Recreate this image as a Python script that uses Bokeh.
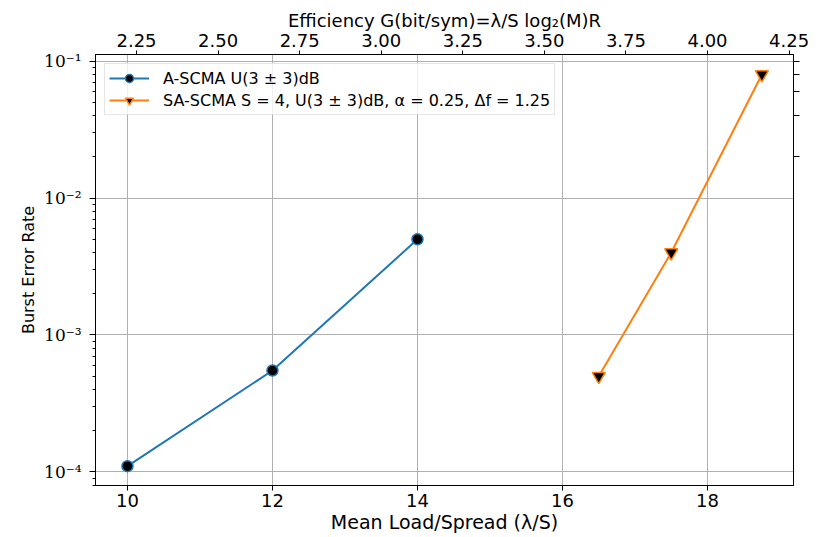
from bokeh.plotting import figure
from bokeh.models import (LinearAxis, LogAxis, Range1d, FixedTicker,
                          CustomJSTickFormatter, NumeralTickFormatter)
from bokeh.embed import file_html
from bokeh.resources import INLINE

# ---- data ----
load_a = [10, 12, 14]
ber_a = [1.1e-4, 5.5e-4, 5.0e-3]
load_sa = [16.5, 17.5, 18.75]
ber_sa = [5.0e-4, 4.0e-3, 8.0e-2]
label_a = "A-SCMA U(3 ± 3)dB"
label_sa = "SA-SCMA S = 4, U(3 ± 3)dB, α = 0.25, Δf = 1.25"

x_ticks = [10, 12, 14, 16, 18]
top_ticks = [2.25, 2.50, 2.75, 3.00, 3.25, 3.50, 3.75, 4.00, 4.25]
y_ticks = [1e-4, 1e-3, 1e-2, 1e-1]
y_tick_labels = ["10⁻⁴", "10⁻³", "10⁻²", "10⁻¹"]
right_ticks = [0.02, 0.04, 0.06, 0.08, 0.10]
eff_per_load = 2.0 / 9.0   # efficiency G per unit of load

x_lo, x_hi = 9.559, 19.186
y_lo, y_hi = 7.95e-5, 0.1119

SANS = "DejaVu Sans"
SERIF = "DejaVu Serif"
BLUE = "#1f77b4"
ORANGE = "#ff7f0e"

p = figure(width=821, height=537, y_axis_type="log",
           x_range=Range1d(x_lo, x_hi), y_range=Range1d(y_lo, y_hi),
           output_backend="svg", toolbar_location=None,
           min_border_left=95, min_border_right=28,
           min_border_top=54, min_border_bottom=52)
p.extra_x_ranges = {"eff": Range1d(x_lo * eff_per_load, x_hi * eff_per_load)}

p.outline_line_color = "black"
p.outline_line_width = 1
p.background_fill_color = "white"
p.border_fill_color = "white"

# bottom axis
bx = p.below[0]
bx.ticker = FixedTicker(ticks=x_ticks)
bx.axis_label = "Mean Load/Spread (λ/S)"

# left axis
ly = p.left[0]
minor = [k * d for d in [1e-5, 1e-4, 1e-3, 1e-2, 1e-1] for k in range(2, 10)]
ly.ticker = FixedTicker(ticks=y_ticks, minor_ticks=minor)
ly.formatter = CustomJSTickFormatter(args=dict(vals=y_ticks, labs=y_tick_labels), code="""
    for (let i = 0; i < vals.length; i++) {
        if (Math.abs(Math.log10(tick) - Math.log10(vals[i])) < 1e-6) return labs[i];
    }
    return "";
""")
ly.axis_label = "Burst Error Rate"

# top axis
tx = LinearAxis(x_range_name="eff", ticker=FixedTicker(ticks=top_ticks),
                formatter=NumeralTickFormatter(format="0.00"),
                axis_label="Efficiency G(bit/sym)=λ/S log₂(M)R")
p.add_layout(tx, "above")

# right axis (unlabelled ticks)
ry = LogAxis(ticker=FixedTicker(ticks=right_ticks, minor_ticks=[]),
             formatter=CustomJSTickFormatter(code="return '';"))
p.add_layout(ry, "right")

for ax in [bx, ly, tx, ry]:
    ax.axis_line_color = "black"
    ax.axis_line_width = 1
    ax.major_tick_line_color = "black"
    ax.minor_tick_line_color = "black"
    ax.major_tick_in = 0
    ax.major_tick_out = 5
    ax.minor_tick_in = 0
    ax.minor_tick_out = 3
    ax.major_label_text_color = "black"
    ax.axis_label_text_color = "black"
    ax.axis_label_text_font_style = "normal"
    ax.axis_label_text_font = SANS

# bottom
bx.major_label_text_font = SANS
bx.major_label_text_font_size = "18px"
bx.major_label_standoff = 3
bx.axis_label_text_font_size = "19px"
bx.axis_label_standoff = 1
# top
tx.major_tick_out = 4
tx.major_label_text_font = SANS
tx.major_label_text_font_size = "18px"
tx.major_label_standoff = 4
tx.axis_label_text_font_size = "18px"
tx.axis_label_standoff = 0
# left
ly.major_tick_out = 6
ly.major_label_text_font = SERIF
ly.major_label_text_font_size = "17px"
ly.major_label_standoff = 8
ly.axis_label_text_font_size = "16px"
ly.axis_label_standoff = 3
# right
ry.major_tick_out = 6

p.xgrid.ticker = FixedTicker(ticks=x_ticks)
p.ygrid.ticker = FixedTicker(ticks=y_ticks)
for g in [p.xgrid[0], p.ygrid[0]]:
    g.grid_line_color = "#b0b0b0"
    g.grid_line_width = 1

# series
p.line(load_a, ber_a, line_color=BLUE, line_width=2, legend_label=label_a)
p.scatter(load_a, ber_a, marker="circle", size=11, fill_color="black",
          line_color=BLUE, line_width=1.5, legend_label=label_a)
p.line(load_sa, ber_sa, line_color=ORANGE, line_width=2, legend_label=label_sa)
p.scatter(load_sa, ber_sa, marker="inverted_triangle", size=13, fill_color="black",
          line_color=ORANGE, line_width=1.5, legend_label=label_sa)

lg = p.legend[0]
lg.location = "top_left"
lg.margin = 9
lg.padding = 4
lg.spacing = 2
lg.glyph_width = 40
lg.glyph_height = 20
lg.label_height = 20
lg.label_standoff = 14
lg.label_text_font = SANS
lg.label_text_font_size = "16px"
lg.label_text_color = "black"
lg.border_line_color = "#cccccc"
lg.border_line_width = 1
lg.background_fill_alpha = 0.8

open("out.html", "w").write(file_html(p, INLINE))
